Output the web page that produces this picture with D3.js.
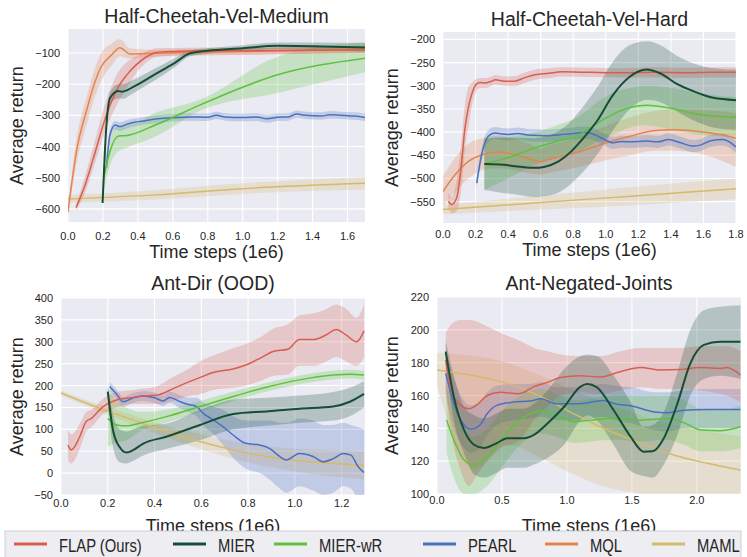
<!DOCTYPE html>
<html>
<head>
<meta charset="utf-8">
<script src="https://cdn.jsdelivr.net/npm/d3@7"></script>
<style>
  body { margin: 0; background: #fff; }
  svg { display: block; }
  text { font-family: "Liberation Sans", Arial, sans-serif; fill: #262626; }
</style>
</head>
<body>
<div id="chart"></div>
<script>
// legend / series names and colours
const methods = ["FLAP (Ours)", "MIER", "MIER-wR", "PEARL", "MQL", "MAML"];
const colors = ["#d65f50", "#154d37", "#5cc23a", "#4a70c0", "#e5834f", "#d5b96c"];

// every row: [time steps (1e6), mean return, band low, band high]

// ---- Half-Cheetah-Vel-Medium
const medFLAP = [[0.046,-596,-606,-586],[0.1,-520,-545,-490],[0.145,-438,-470,-400],[0.22,-299,-340,-250],
  [0.289,-208,-256,-160],[0.335,-171,-215,-130],[0.39,-138,-165,-110],[0.45,-112,-130,-95],[0.507,-98,-112,-85],
  [0.6,-95,-108,-84],[0.8,-93,-105,-82],[1.0,-93,-105,-83],[1.2,-92,-103,-82],[1.4,-91,-102,-81],[1.7,-90,-100,-80]];
const medMIER = [[0.198,-581,-590,-572],[0.22,-331,-350,-310],[0.24,-245,-265,-225],[0.288,-222,-245,-200],
  [0.31,-224,-247,-200],[0.376,-208,-228,-185],[0.49,-171,-190,-152],[0.6,-136,-150,-120],[0.7,-101,-110,-92],
  [0.8,-93,-102,-85],[1.0,-85,-95,-75],[1.2,-77,-88,-66],[1.4,-78,-90,-66],[1.7,-82,-95,-68]];
const medMIERwR = [[0.205,-500,-540,-460],[0.24,-416,-460,-380],[0.289,-366,-415,-330],[0.33,-365,-405,-335],
  [0.5,-331,-368,-292],[0.754,-267,-286,-250],[1.2,-170,-228,-112],[1.7,-117,-162,-65]];
const medPEARL = [[0.22,-469,-480,-455],[0.24,-363,-380,-345],[0.27,-331,-345,-318],[0.297,-336,-350,-322],
  [0.335,-329,-342,-316],[0.38,-322,-335,-310],[0.43,-318,-330,-306],[0.5,-312,-325,-300],[0.6,-308,-320,-296],
  [0.7,-305,-317,-293],[0.8,-306,-318,-294],[0.85,-300,-312,-288],[0.9,-305,-317,-293],[1.0,-307,-319,-295],
  [1.08,-305,-318,-293],[1.14,-311,-324,-298],[1.2,-306,-318,-294],[1.26,-305,-317,-293],[1.31,-296,-308,-284],
  [1.36,-300,-312,-288],[1.45,-302,-314,-290],[1.5,-298,-310,-286],[1.56,-300,-312,-288],[1.62,-302,-314,-290],
  [1.66,-303,-315,-291],[1.7,-307,-319,-295]];
const medMQL = [[0,-610,-620,-600],[0.05,-411,-450,-370],[0.107,-283,-330,-240],[0.145,-208,-255,-165],
  [0.19,-144,-190,-100],[0.25,-106,-140,-70],[0.297,-83,-110,-55],[0.354,-103,-118,-85],[0.5,-101,-112,-90],
  [0.8,-97,-108,-86],[1.2,-93,-104,-82],[1.7,-88,-100,-76]];
const medMAML = [[0,-568,-580,-556],[0.5,-555,-570,-540],[1.0,-535,-552,-518],[1.7,-518,-538,-498]];

// ---- Half-Cheetah-Vel-Hard
const hardFLAP = [[0.033,-549,-562,-530],[0.053,-556,-575,-540],[0.084,-542,-570,-505],[0.11,-480,-530,-430],
  [0.135,-391,-440,-340],[0.16,-340,-380,-300],[0.176,-319,-345,-295],[0.207,-296,-310,-285],[0.23,-293,-305,-283],
  [0.26,-294,-305,-283],[0.3,-290,-300,-280],[0.32,-287,-298,-277],[0.38,-290,-300,-280],[0.44,-290,-301,-279],
  [0.5,-283,-294,-272],[0.565,-276,-287,-265],[0.65,-273,-284,-262],[0.73,-270,-280,-260],[0.9,-271,-281,-261],
  [1.1,-272,-282,-262],[1.3,-271,-282,-260],[1.5,-272,-283,-261],[1.65,-271,-282,-260],[1.8,-271,-282,-260]];
const hardMIER = [[0.254,-469,-525,-415],[0.35,-470,-530,-412],[0.46,-474,-535,-412],[0.563,-477,-540,-413],
  [0.62,-475,-538,-410],[0.71,-463,-530,-398],[0.79,-441,-510,-375],[0.85,-418,-490,-350],[0.944,-377,-450,-305],
  [1.046,-319,-395,-247],[1.149,-280,-350,-212],[1.25,-265,-330,-204],[1.333,-273,-335,-212],[1.436,-296,-355,-235],
  [1.54,-312,-375,-252],[1.66,-326,-390,-262],[1.8,-331,-395,-265]];
const hardMIERwR = [[0.254,-468,-525,-412],[0.4,-455,-500,-410],[0.565,-434,-470,-400],[0.7,-420,-455,-385],
  [0.84,-405,-440,-365],[0.95,-380,-420,-335],[1.046,-361,-405,-315],[1.15,-347,-390,-305],[1.25,-342,-385,-300],
  [1.41,-349,-395,-305],[1.556,-361,-405,-315],[1.8,-368,-410,-325]];
const hardPEARL = [[0.207,-510,-520,-498],[0.237,-449,-462,-436],[0.278,-409,-422,-396],[0.32,-402,-415,-389],
  [0.36,-404,-417,-391],[0.4,-405,-418,-392],[0.46,-403,-416,-390],[0.52,-406,-419,-393],[0.58,-407,-420,-394],
  [0.63,-408,-421,-395],[0.7,-406,-419,-393],[0.77,-404,-417,-391],[0.87,-401,-414,-388],[0.903,-402,-415,-389],
  [0.97,-412,-425,-399],[1.046,-423,-436,-410],[1.1,-420,-433,-407],[1.15,-421,-434,-408],[1.25,-419,-432,-406],
  [1.32,-421,-434,-408],[1.385,-416,-429,-403],[1.46,-423,-436,-410],[1.536,-430,-443,-417],[1.58,-428,-441,-415],
  [1.64,-419,-432,-406],[1.72,-416,-429,-403],[1.8,-432,-445,-419]];
const hardMQL = [[0,-528,-560,-495],[0.074,-492,-530,-455],[0.156,-463,-500,-425],[0.258,-447,-480,-412],
  [0.34,-443,-478,-408],[0.44,-449,-482,-415],[0.545,-459,-490,-428],[0.594,-464,-492,-436],[0.645,-459,-488,-430],
  [0.77,-449,-480,-418],[0.873,-438,-472,-404],[1.005,-423,-460,-386],[1.15,-409,-450,-368],[1.29,-397,-440,-355],
  [1.41,-395,-440,-350],[1.556,-398,-445,-352],[1.7,-405,-460,-355],[1.8,-413,-475,-360]];
const hardMAML = [[0,-567,-577,-557],[0.6,-552,-567,-537],[1.2,-537,-557,-517],[1.8,-522,-545,-500]];

// ---- Ant-Dir (OOD)
const dirFLAP = [[0.03,64,30,100],[0.044,53,22,88],[0.08,83,55,112],[0.108,118,95,140],[0.13,125,105,145],
  [0.18,152,135,170],[0.237,167,150,185],[0.31,173,158,190],[0.35,176,158,193],[0.41,178,158,198],
  [0.48,193,165,220],[0.536,206,175,235],[0.593,218,180,255],[0.65,230,190,268],[0.736,238,195,285],
  [0.79,247,200,295],[0.85,262,210,310],[0.907,278,222,330],[0.97,283,225,340],[1.02,305,245,360],
  [1.08,305,245,365],[1.135,316,255,375],[1.177,328,265,385],[1.22,315,255,375],[1.264,300,245,355],[1.296,325,265,385]];
const dirMIER = [[0.2,186,170,200],[0.222,99,60,135],[0.25,60,25,100],[0.28,47,22,95],[0.31,53,28,100],
  [0.35,67,40,108],[0.45,83,55,113],[0.594,110,75,144],[0.736,135,100,168],[0.878,141,108,172],
  [1.02,147,115,177],[1.164,152,120,185],[1.235,163,130,195],[1.296,181,150,210]];
const dirMIERwR = [[0.2,125,60,195],[0.237,110,70,165],[0.28,108,75,150],[0.336,114,95,140],[0.45,129,115,145],
  [0.594,152,140,165],[0.736,175,165,186],[0.878,196,186,206],[1.02,213,203,223],[1.164,224,214,234],
  [1.235,226,216,236],[1.296,224,213,234]];
const dirPEARL = [[0.208,198,188,208],[0.237,181,170,192],[0.265,163,152,174],[0.31,172,161,183],[0.35,176,165,187],
  [0.4,172,160,184],[0.437,165,153,177],[0.465,173,160,186],[0.51,163,148,178],[0.55,156,138,172],
  [0.58,152,130,172],[0.607,137,110,162],[0.65,122,90,152],[0.693,106,65,145],[0.736,87,35,130],
  [0.79,68,10,120],[0.85,64,0,120],[0.893,56,-15,120],[0.935,38,-35,115],[0.964,30,-45,115],
  [1.02,45,-30,125],[1.078,38,-40,120],[1.12,26,-50,110],[1.164,33,-45,110],[1.207,45,-30,115],
  [1.24,41,-35,110],[1.27,15,-60,105],[1.296,1,-70,100]];
const dirMQL = [];
const dirMAML = [[0,183,178,188],[0.165,148,140,156],[0.31,121,110,132],[0.45,95,82,108],[0.594,72,55,90],
  [0.736,53,33,73],[0.878,38,15,62],[1.02,28,2,55],[1.164,22,-8,52],[1.296,18,-15,50]];

// ---- Ant-Negated-Joints
const negFLAP = [[0.067,181.6,165,198],[0.105,165,140,203],[0.18,154,115,206],[0.246,152,105,206],
  [0.31,154.5,112,205],[0.387,160,120,202],[0.49,162,128,198],[0.62,161,132,194],[0.67,162,136,192],
  [0.746,165.4,145,189],[0.85,168,153,187],[0.95,171,160,185],[1.1,172,162,184],[1.26,171.3,161,184],
  [1.41,174.5,163,187],[1.567,177,165,189],[1.72,175.5,164,189],[1.87,175.8,164,189],[2.03,177,163,190],
  [2.18,176.5,161,190],[2.23,177,160,190],[2.336,172.5,156,187]];
const negMIER = [[0.067,186.7,180,193],[0.13,159,145,172],[0.208,139,125,153],[0.285,130,112,148],
  [0.36,128,110,146],[0.46,131,113,149],[0.54,134,116,152],[0.67,134,116,152],[0.746,136,118,155],
  [0.85,143,122,163],[0.977,153,130,176],[1.105,165.4,145,184],[1.156,167,148,185],[1.23,165,145,184],
  [1.36,151,130,172],[1.49,135,114,156],[1.59,125.8,111,141],[1.66,126,110,142],[1.746,134,118,150],
  [1.85,155,136,174],[1.95,179.6,160,200],[2.054,190.8,170,212],[2.18,192.8,172,214],[2.336,192.8,170,215]];
const negMIERwR = [[0.074,145,125,165],[0.13,132.8,110,158],[0.208,120.7,100,140],[0.285,117.7,100,135],
  [0.387,122.7,105,140],[0.515,135,118,152],[0.64,145,130,160],[0.8,150.6,137,164],[0.95,147,134,160],
  [1.054,144,131,157],[1.18,145,132,158],[1.36,146,133,160],[1.57,145,132,160],[1.77,146,133,160],
  [1.9,143.5,130,157],[2.03,139,126,152],[2.18,138.6,126,151],[2.336,141,128,154]];
const negPEARL = [[0.067,173.5,160,188],[0.13,155,140,170],[0.208,142,128,157],[0.26,139.5,125,154],
  [0.33,142,128,156],[0.387,149,136,162],[0.46,154,142,166],[0.59,156,145,167],[0.72,156.7,146,167],
  [0.8,158,147,168],[0.92,155,145,165],[1.1,155,145,165],[1.28,157,147,167],[1.37,155,145,166],
  [1.5,153.6,143,165],[1.67,150,139,162],[1.77,149.5,138,162],[1.9,151,140,163],[2.08,151.5,140,164],
  [2.336,151.5,140,164]];
const negMQL = [];
const negMAML = [[0,175.5,166,186],[0.285,172,115,184],[0.54,167.5,130,180],[0.8,159.3,122,172],
  [1.05,149,112,163],[1.31,139,104,155],[1.57,131,100,148],[1.82,123.8,95,142],[2.08,118.7,92,138],
  [2.336,114.6,90,135]];

// tick values per panel
const medXTicks = [0, 0.2, 0.4, 0.6, 0.8, 1.0, 1.2, 1.4, 1.6];
const medYTicks = [-600, -500, -400, -300, -200, -100];
const hardXTicks = [0, 0.2, 0.4, 0.6, 0.8, 1.0, 1.2, 1.4, 1.6, 1.8];
const hardYTicks = [-550, -500, -450, -400, -350, -300, -250, -200];
const dirXTicks = [0, 0.2, 0.4, 0.6, 0.8, 1.0, 1.2];
const dirYTicks = [-50, 0, 50, 100, 150, 200, 250, 300, 350, 400];
const negXTicks = [0, 0.5, 1.0, 1.5, 2.0];
const negYTicks = [100, 120, 140, 160, 180, 200, 220];

const W = 747, H = 557;
const svg = d3.select("#chart").append("svg").attr("width", W).attr("height", H);

const panels = [
  {title: "Half-Cheetah-Vel-Medium", l: 68, t: 29, r: 365, b: 222, xd: [0, 1.7], yd: [-642, -23],
   xt: medXTicks, yt: medYTicks, titleY: 23, tickDy: 18, xlabY: 258, ylabX: 23,
   series: [medFLAP, medMIER, medMIERwR, medPEARL, medMQL, medMAML]},
  {title: "Half-Cheetah-Vel-Hard", l: 443, t: 32, r: 736, b: 223, xd: [0, 1.8], yd: [-596, -184],
   xt: hardXTicks, yt: hardYTicks, titleY: 26, tickDy: 15, xlabY: 256, ylabX: 398,
   series: [hardFLAP, hardMIER, hardMIERwR, hardPEARL, hardMQL, hardMAML]},
  {title: "Ant-Dir (OOD)", l: 61, t: 298, r: 365, b: 495, xd: [0, 1.3], yd: [-50, 400],
   xt: dirXTicks, yt: dirYTicks, titleY: 290, tickDy: 12, xlabY: 532, ylabX: 23,
   series: [dirFLAP, dirMIER, dirMIERwR, dirPEARL, dirMQL, dirMAML]},
  {title: "Ant-Negated-Joints", l: 437, t: 297, r: 741, b: 494, xd: [0, 2.34], yd: [100, 220],
   xt: negXTicks, yt: negYTicks, titleY: 290, tickDy: 10, xlabY: 532, ylabX: 398,
   series: [negFLAP, negMIER, negMIERwR, negPEARL, negMQL, negMAML]}
];

// draw order: back to front
const drawOrder = [5, 4, 3, 2, 0, 1];

panels.forEach((p, pi) => {
  const x = d3.scaleLinear().domain(p.xd).range([p.l, p.r]);
  const y = d3.scaleLinear().domain(p.yd).range([p.b, p.t]);
  const g = svg.append("g");

  g.append("rect").attr("x", p.l).attr("y", p.t)
    .attr("width", p.r - p.l).attr("height", p.b - p.t).attr("fill", "#eaeaf2");

  const clipId = "clip" + pi;
  svg.append("clipPath").attr("id", clipId).append("rect")
    .attr("x", p.l).attr("y", p.t).attr("width", p.r - p.l).attr("height", p.b - p.t);

  // grid
  g.selectAll(".gx").data(p.xt).enter().append("line")
    .attr("x1", d => x(d)).attr("x2", d => x(d)).attr("y1", p.t).attr("y2", p.b)
    .attr("stroke", "#fff").attr("stroke-width", 1.1);
  g.selectAll(".gy").data(p.yt).enter().append("line")
    .attr("x1", p.l).attr("x2", p.r).attr("y1", d => y(d)).attr("y2", d => y(d))
    .attr("stroke", "#fff").attr("stroke-width", 1.1);

  const plot = g.append("g").attr("clip-path", "url(#" + clipId + ")");
  const area = d3.area().x(d => x(d[0])).y0(d => y(d[2])).y1(d => y(d[3])).curve(d3.curveMonotoneX);
  const line = d3.line().x(d => x(d[0])).y(d => y(d[1])).curve(d3.curveMonotoneX);

  drawOrder.forEach(i => {
    if (!p.series[i].length) return;
    plot.append("path").attr("d", area(p.series[i]))
      .attr("fill", colors[i]).attr("fill-opacity", 0.25).attr("stroke", "none");
  });
  drawOrder.forEach(i => {
    if (!p.series[i].length) return;
    plot.append("path").attr("d", line(p.series[i]))
      .attr("fill", "none").attr("stroke", colors[i])
      .attr("stroke-width", i === 1 ? 2 : 1.5).attr("stroke-linejoin", "round");
  });

  // tick labels
  const fx = d3.format(".1f");
  g.selectAll(".xt").data(p.xt).enter().append("text")
    .attr("x", d => x(d)).attr("y", p.b + p.tickDy)
    .attr("text-anchor", "middle").attr("font-size", 11).text(d => fx(d));
  g.selectAll(".yt").data(p.yt).enter().append("text")
    .attr("x", p.l - 8).attr("y", d => y(d) + 4)
    .attr("text-anchor", "end").attr("font-size", 11).text(d => d3.format("d")(d));

  g.append("text").attr("x", (p.l + p.r) / 2).attr("y", p.titleY)
    .attr("text-anchor", "middle").attr("font-size", 19.5).text(p.title);
  g.append("text").attr("x", (p.l + p.r) / 2).attr("y", p.xlabY)
    .attr("text-anchor", "middle").attr("font-size", 18).text("Time steps (1e6)");
  g.append("text")
    .attr("transform", `translate(${p.ylabX},${(p.t + p.b) / 2}) rotate(-90)`)
    .attr("text-anchor", "middle").attr("font-size", 18).text("Average return");
});

// legend
const legendX = [14, 173, 274, 423, 545, 652];
const lg = svg.append("g");
lg.append("rect").attr("x", 5).attr("y", 531).attr("width", 736).attr("height", 34)
  .attr("fill", "#eeeef2").attr("stroke", "#cfcfd4").attr("stroke-width", 1);
methods.forEach((m, i) => {
  lg.append("line").attr("x1", legendX[i]).attr("x2", legendX[i] + 33)
    .attr("y1", 544).attr("y2", 544).attr("stroke", colors[i]).attr("stroke-width", 3);
  lg.append("text")
    .attr("transform", `translate(${legendX[i] + 45},552) scale(0.78,1)`)
    .attr("font-size", 19).text(m);
});
</script>
</body>
</html>
